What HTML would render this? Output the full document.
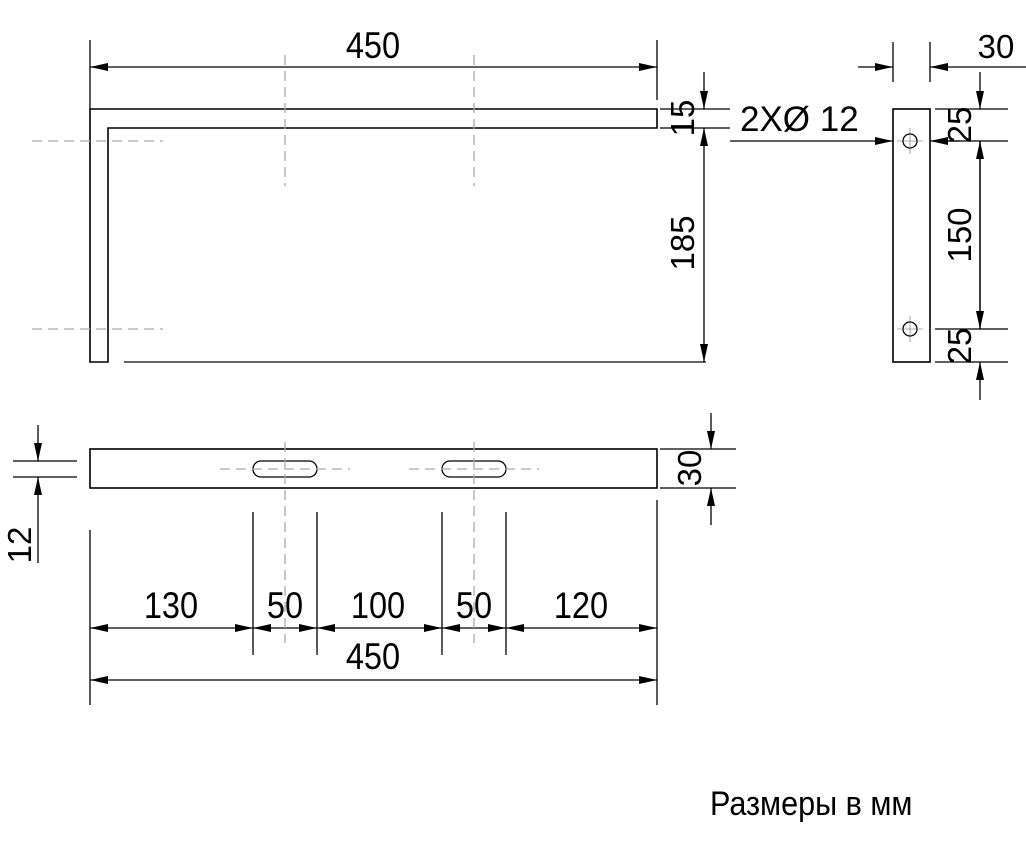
<!DOCTYPE html>
<html><head><meta charset="utf-8"><style>
html,body{margin:0;padding:0;background:#fff;}
svg{display:block;}
text{font-family:"Liberation Sans",sans-serif;fill:#000;}
</style></head><body>
<svg width="1026" height="845" viewBox="0 0 1026 845" xmlns="http://www.w3.org/2000/svg">
<defs>
<marker id="a" viewBox="0 0 18 8" refX="18" refY="4" markerWidth="18" markerHeight="8" markerUnits="userSpaceOnUse" orient="auto-start-reverse"><path d="M0,0 L18,4 L0,8 Z" fill="#000"/></marker>
</defs>
<g stroke="#000" stroke-width="1.3" fill="none">
<path d="M90,362 L90,109 L657,109 L657,128 L108,128 L108,362 Z" stroke-width="1.6"/>
<line x1="124" y1="362" x2="706" y2="362" stroke="#666" stroke-width="2"/>
<line x1="90" y1="40" x2="90" y2="109"/>
<line x1="657" y1="40" x2="657" y2="100"/>
<line x1="90" y1="67" x2="657" y2="67" marker-start="url(#a)" marker-end="url(#a)"/>
<line x1="660" y1="109" x2="730" y2="109"/>
<line x1="660" y1="128" x2="730" y2="128"/>
<line x1="704" y1="72" x2="704" y2="109" marker-end="url(#a)"/>
<line x1="704" y1="128" x2="704" y2="362" marker-start="url(#a)" marker-end="url(#a)"/>
<line x1="730" y1="141" x2="893" y2="141" marker-end="url(#a)"/>
<line x1="960" y1="141" x2="930" y2="141" marker-end="url(#a)"/>
<rect x="893" y="109" width="37" height="253" stroke-width="1.6"/>
<circle cx="910" cy="141" r="7"/>
<circle cx="910" cy="329" r="7"/>
<g stroke-width="0.6" stroke="#666">
<line x1="897" y1="141" x2="923" y2="141"/><line x1="910" y1="128" x2="910" y2="154"/>
<line x1="897" y1="329" x2="923" y2="329"/><line x1="910" y1="316" x2="910" y2="342"/>
</g>
<line x1="893" y1="42" x2="893" y2="82"/>
<line x1="930" y1="42" x2="930" y2="82"/>
<line x1="858" y1="67" x2="893" y2="67" marker-end="url(#a)"/>
<line x1="1026" y1="67" x2="930" y2="67" marker-end="url(#a)"/>
<line x1="935" y1="109" x2="1008" y2="109"/>
<line x1="935" y1="141" x2="1008" y2="141"/>
<line x1="935" y1="329" x2="1008" y2="329"/>
<line x1="935" y1="362" x2="1008" y2="362"/>
<line x1="980" y1="72" x2="980" y2="109" marker-end="url(#a)"/>
<line x1="980" y1="329" x2="980" y2="141" marker-end="url(#a)"/>
<line x1="980" y1="141" x2="980" y2="329" marker-end="url(#a)"/>
<line x1="980" y1="400" x2="980" y2="362" marker-end="url(#a)"/>
<rect x="90" y="449" width="567" height="39" stroke-width="1.6"/>
<rect x="253" y="461" width="64" height="16" rx="8"/>
<rect x="442" y="461" width="64" height="16" rx="8"/>
<line x1="13" y1="461" x2="77" y2="461"/>
<line x1="13" y1="477" x2="77" y2="477"/>
<line x1="38" y1="425" x2="38" y2="461" marker-end="url(#a)"/>
<line x1="38" y1="563" x2="38" y2="477" marker-end="url(#a)"/>
<line x1="660" y1="449" x2="736" y2="449"/>
<line x1="660" y1="488" x2="736" y2="488"/>
<line x1="711" y1="413" x2="711" y2="449" marker-end="url(#a)"/>
<line x1="711" y1="525" x2="711" y2="488" marker-end="url(#a)"/>
<line x1="90" y1="530" x2="90" y2="705"/>
<line x1="657" y1="500" x2="657" y2="705"/>
<line x1="253" y1="512" x2="253" y2="655"/>
<line x1="317" y1="512" x2="317" y2="655"/>
<line x1="442" y1="512" x2="442" y2="655"/>
<line x1="506" y1="512" x2="506" y2="655"/>
<line x1="90" y1="628" x2="253" y2="628" marker-start="url(#a)" marker-end="url(#a)"/>
<line x1="253" y1="628" x2="317" y2="628" marker-start="url(#a)" marker-end="url(#a)"/>
<line x1="317" y1="628" x2="442" y2="628" marker-start="url(#a)" marker-end="url(#a)"/>
<line x1="442" y1="628" x2="506" y2="628" marker-start="url(#a)" marker-end="url(#a)"/>
<line x1="506" y1="628" x2="657" y2="628" marker-start="url(#a)" marker-end="url(#a)"/>
<line x1="90" y1="680" x2="657" y2="680" marker-start="url(#a)" marker-end="url(#a)"/>
</g>
<g stroke="#aaa" stroke-width="1.3" stroke-dasharray="10,6" fill="none">
<line x1="285" y1="55" x2="285" y2="186"/>
<line x1="474" y1="55" x2="474" y2="186"/>
<line x1="32" y1="141" x2="163" y2="141"/>
<line x1="32" y1="329" x2="163" y2="329"/>
<line x1="220" y1="469" x2="350" y2="469"/>
<line x1="409" y1="469" x2="539" y2="469"/>
<line x1="285" y1="442" x2="285" y2="643"/>
<line x1="474" y1="442" x2="474" y2="643"/>
</g>
<g font-size="37">
<text x="373" y="58" text-anchor="middle" transform="translate(373 0) scale(0.88 1) translate(-373 0)">450</text>
<text x="373" y="669" text-anchor="middle" transform="translate(373 0) scale(0.88 1) translate(-373 0)">450</text>
<text x="171" y="618" text-anchor="middle" transform="translate(171 0) scale(0.88 1) translate(-171 0)">130</text>
<text x="285" y="618" text-anchor="middle" transform="translate(285 0) scale(0.88 1) translate(-285 0)">50</text>
<text x="378" y="618" text-anchor="middle" transform="translate(378 0) scale(0.88 1) translate(-378 0)">100</text>
<text x="474" y="618" text-anchor="middle" transform="translate(474 0) scale(0.88 1) translate(-474 0)">50</text>
<text x="581" y="618" text-anchor="middle" transform="translate(581 0) scale(0.88 1) translate(-581 0)">120</text>
</g>
<g font-size="33">
<text x="996" y="58" text-anchor="middle">30</text>
<text x="740" y="131" font-size="35">2XØ 12</text>
<text transform="translate(694 118) rotate(-90)" text-anchor="middle">15</text>
<text transform="translate(694 243) rotate(-90)" text-anchor="middle">185</text>
<text transform="translate(971 125) rotate(-90)" text-anchor="middle">25</text>
<text transform="translate(971 235) rotate(-90)" text-anchor="middle">150</text>
<text transform="translate(971 346) rotate(-90)" text-anchor="middle">25</text>
<text transform="translate(701 468) rotate(-90)" text-anchor="middle">30</text>
<text transform="translate(31 545) rotate(-90)" text-anchor="middle">12</text>
</g>
<text x="710" y="815" font-size="34" transform="translate(710 0) scale(0.9 1) translate(-710 0)">Размеры в мм</text>
</svg>
</body></html>
